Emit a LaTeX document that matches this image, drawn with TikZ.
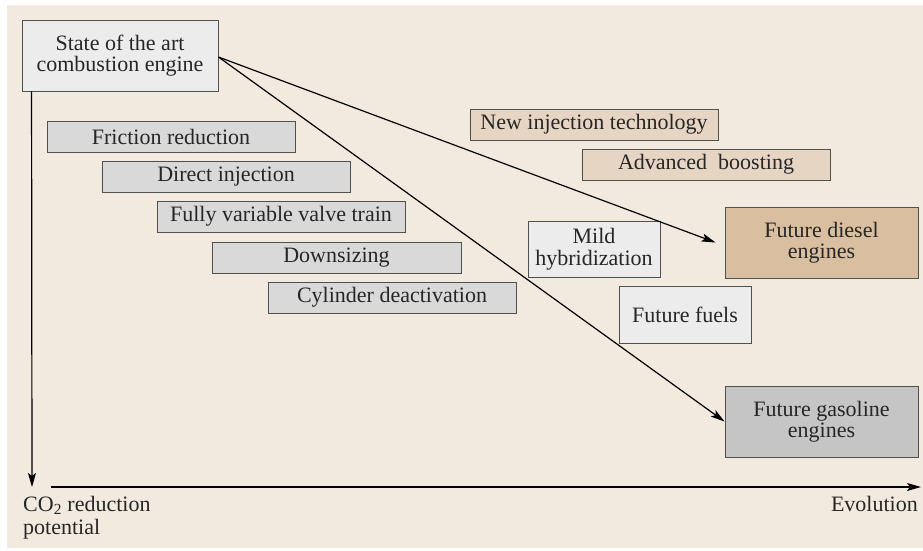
\documentclass[tikz,border=0pt]{standalone}
\usepackage{fontspec}
\setmainfont{Liberation Serif}
\usetikzlibrary{arrows.meta}
\definecolor{bg}{HTML}{F2EADF}
\definecolor{gbox}{HTML}{D9D9D9}
\definecolor{lbox}{HTML}{ECECEC}
\definecolor{tbox}{HTML}{E6D5C3}
\definecolor{dbox}{HTML}{D9BFA0}
\definecolor{sbox}{HTML}{C4C5C4}
\definecolor{edge}{HTML}{505050}
\begin{document}
\begin{tikzpicture}[x=1pt,y=-1pt,
  box/.style={draw=edge, line width=0.9pt, inner sep=0pt, align=center,
    font=\fontsize{22}{21.5}\selectfont, text=black!85},
  conn/.style={line width=1.2pt, -{Stealth[length=14pt,width=8pt,inset=3pt]}},
  lbl/.style={inner sep=0pt, font=\fontsize{22}{23.5}\selectfont, text=black!85}]
\useasboundingbox (0,0) rectangle (923,550);
\fill[bg] (7,5) rectangle (923,548);
\node[box, fill=lbox, minimum width=196pt, minimum height=71pt] (state) at (120,55.5) {State of the art\\combustion engine};
\node[box, fill=gbox, minimum width=248pt, minimum height=31pt] (fric) at (171,136.5) {Friction reduction};
\node[box, fill=gbox, minimum width=248pt, minimum height=31pt] (direct) at (226,176.5) {Direct injection};
\node[box, fill=gbox, minimum width=248pt, minimum height=31pt] (fvvt) at (281,216.5) {Fully variable valve train};
\node[box, fill=gbox, minimum width=249pt, minimum height=31pt] (down) at (336.5,257.5) {Downsizing};
\node[box, fill=gbox, minimum width=248pt, minimum height=31pt] (cyl) at (392,297.5) {Cylinder deactivation};
\node[box, fill=tbox, minimum width=248pt, minimum height=31pt] (newinj) at (594,124.5) {New injection technology};
\node[box, fill=tbox, minimum width=248pt, minimum height=31pt] (adv) at (706,164.5) {Advanced\ \ boosting};
\node[box, fill=dbox, minimum width=193pt, minimum height=71pt] (diesel) at (821.5,242.5) {Future diesel\\engines};
\node[box, fill=lbox, minimum width=132pt, minimum height=56pt] (mild) at (594,249) {Mild\\hybridization};
\node[box, fill=lbox, minimum width=132pt, minimum height=57pt] (fuels) at (685,314.5) {Future fuels};
\node[box, fill=sbox, minimum width=193pt, minimum height=71pt] (gas) at (821.5,421.5) {Future gasoline\\engines};
\coordinate (ytip) at (32,487);
\coordinate (xs) at (51,487);
\coordinate (xe) at (921,487);
\draw[conn] ([yshift=-1.5pt]state.east) -- ([xshift=-9pt]diesel.west);
\draw[conn] ([yshift=-1.5pt]state.east) -- (gas.west);
\draw[conn] ([xshift=10pt]state.south west) -- (ytip);
\draw[conn] (xs) -- (xe);
\node[lbl, anchor=north west, align=left] (ylab) at (23,496) {CO\textsubscript{2} reduction\\potential};
\node[lbl, anchor=north east] (xlab) at (918,496) {Evolution};
\end{tikzpicture}
\end{document}
